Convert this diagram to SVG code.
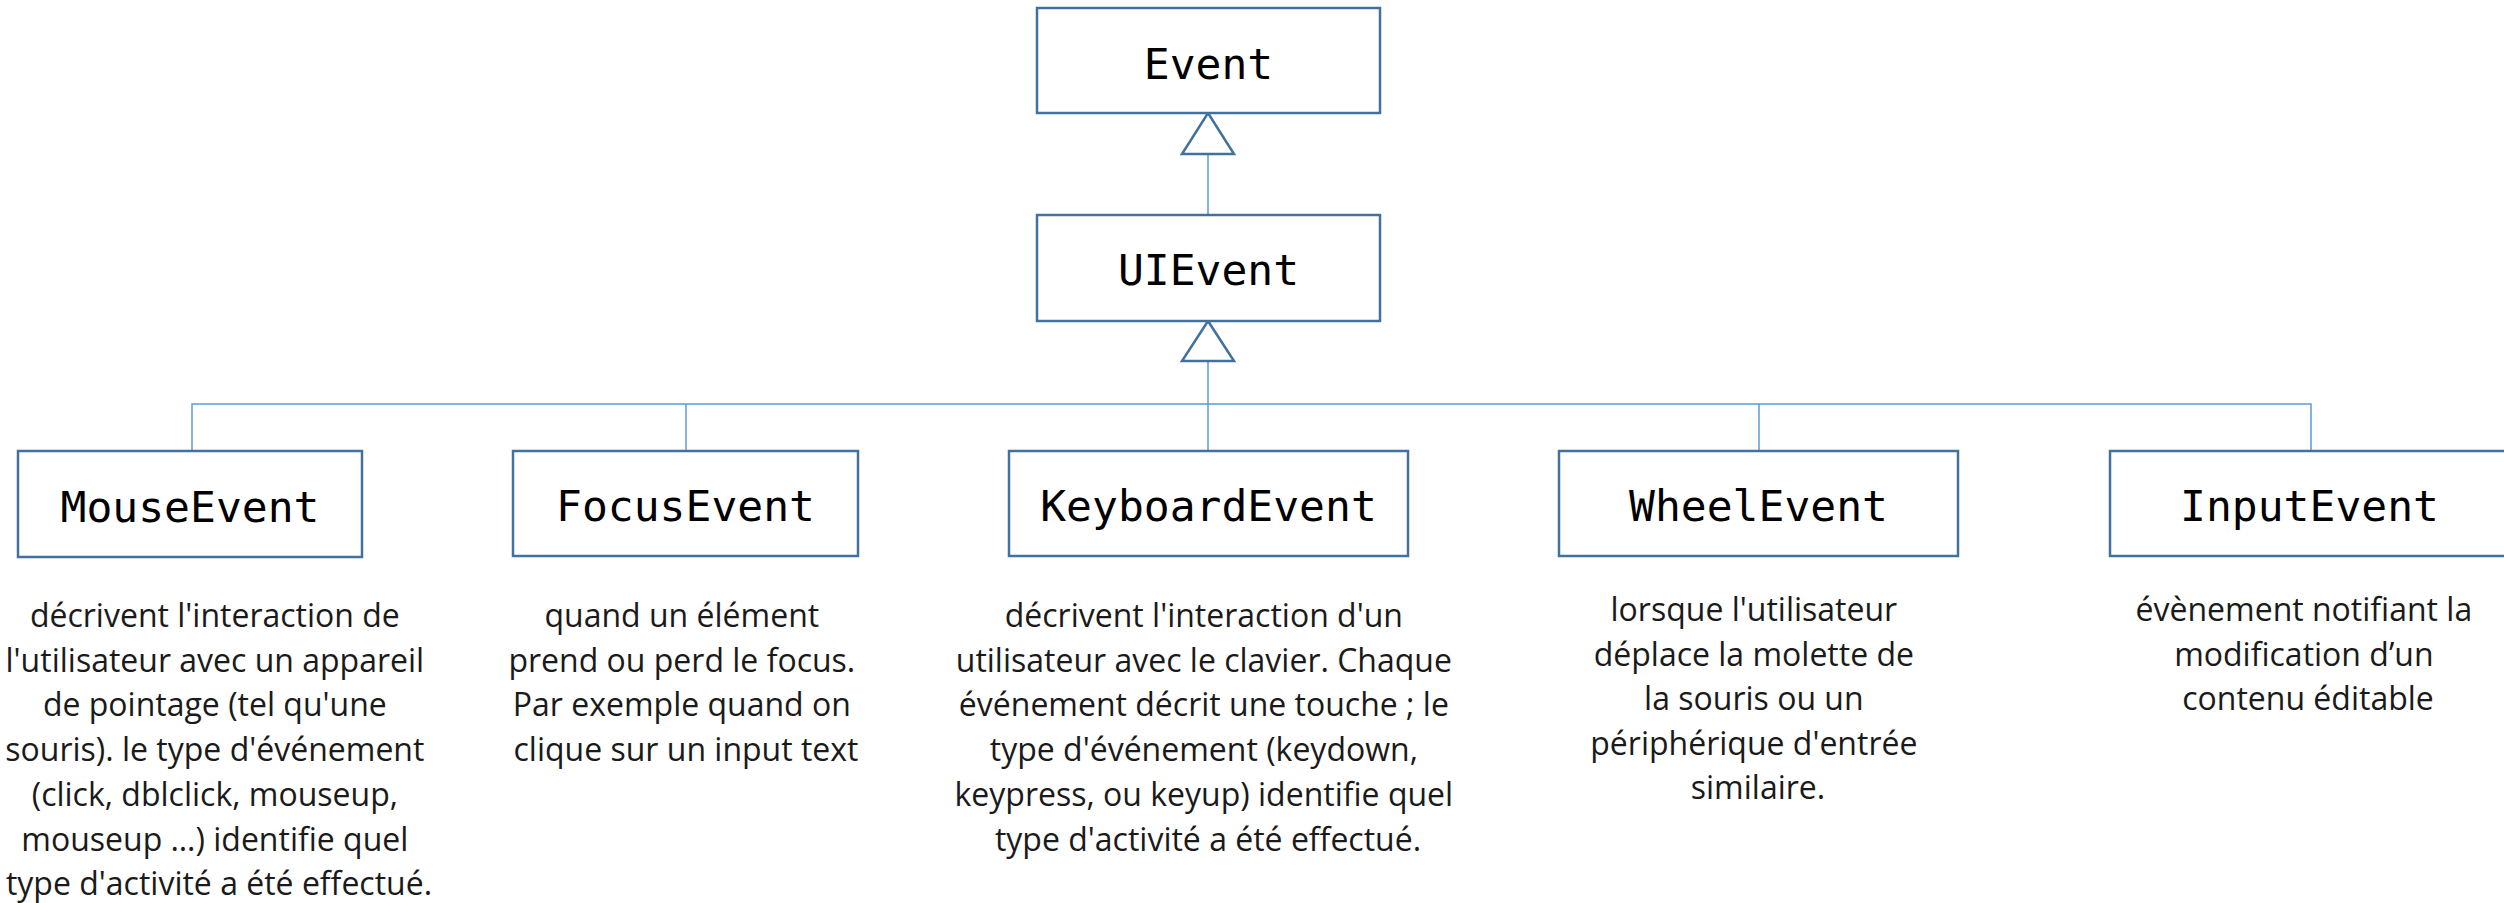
<svg xmlns="http://www.w3.org/2000/svg" width="2504" height="903" viewBox="0 0 2504 903">
  <style>
    .box { fill: #ffffff; stroke: #41719c; stroke-width: 2.5; }
    .label { font-family: "DejaVu Sans Mono", "Liberation Mono", monospace; font-size: 43px; fill: #000000; text-anchor: middle; }
    .desc { font-family: "Open Sans", "Noto Sans", "Liberation Sans", sans-serif; font-weight: 400; font-size: 32px; fill: #1a1a1a; text-anchor: middle; }
    .link { fill: none; stroke: #5b9bd5; stroke-width: 1.5; }
    .head { fill: #ffffff; stroke: #41719c; stroke-width: 2.5; stroke-linejoin: miter; }
  </style>
  <rect width="2504" height="903" fill="#ffffff"/>

  <!-- inheritance connectors -->
  <g id="connectors">
    <line class="link" x1="1208" y1="154" x2="1208" y2="215"/>
    <line class="link" x1="1208" y1="361" x2="1208" y2="451"/>
    <polyline class="link" points="192,451 192,404 2311,404 2311,451"/>
    <line class="link" x1="686" y1="404" x2="686" y2="451"/>
    <line class="link" x1="1759" y1="404" x2="1759" y2="451"/>
    <polygon class="head" points="1208,113 1234,154 1182,154"/>
    <polygon class="head" points="1208,321 1234,361 1182,361"/>
  </g>

  <g id="event">
    <rect class="box" x="1037" y="8" width="343" height="105"/>
    <text class="label" x="1208.5" y="79">Event</text>
  </g>

  <g id="uievent">
    <rect class="box" x="1037" y="215" width="343" height="106"/>
    <text class="label" x="1208.5" y="285">UIEvent</text>
  </g>

  <g id="mouseevent">
    <rect class="box" x="18" y="451" width="344" height="106"/>
    <text class="label" x="190" y="522">MouseEvent</text>
    <text class="desc" y="627">
      <tspan x="219">décrivent l'interaction de</tspan>
      <tspan x="219" dy="44.7">l'utilisateur avec un appareil</tspan>
      <tspan x="219" dy="44.7">de pointage (tel qu'une</tspan>
      <tspan x="219" dy="44.7">souris). le type d'événement</tspan>
      <tspan x="219" dy="44.7">(click, dblclick, mouseup,</tspan>
      <tspan x="219" dy="44.7">mouseup …) identifie quel</tspan>
      <tspan x="219" dy="44.7">type d'activité a été effectué.</tspan>
    </text>
  </g>

  <g id="focusevent">
    <rect class="box" x="513" y="451" width="345" height="105"/>
    <text class="label" x="685.5" y="521">FocusEvent</text>
    <text class="desc" y="627">
      <tspan x="686">quand un élément</tspan>
      <tspan x="686" dy="44.7">prend ou perd le focus.</tspan>
      <tspan x="686" dy="44.7">Par exemple quand on</tspan>
      <tspan x="686" dy="44.7">clique sur un input text</tspan>
    </text>
  </g>

  <g id="keyboardevent">
    <rect class="box" x="1009" y="451" width="399" height="105"/>
    <text class="label" x="1208.5" y="521">KeyboardEvent</text>
    <text class="desc" y="627">
      <tspan x="1208">décrivent l'interaction d'un</tspan>
      <tspan x="1208" dy="44.7">utilisateur avec le clavier. Chaque</tspan>
      <tspan x="1208" dy="44.7">événement décrit une touche ; le</tspan>
      <tspan x="1208" dy="44.7">type d'événement (keydown,</tspan>
      <tspan x="1208" dy="44.7">keypress, ou keyup) identifie quel</tspan>
      <tspan x="1208" dy="44.7">type d'activité a été effectué.</tspan>
    </text>
  </g>

  <g id="wheelevent">
    <rect class="box" x="1559" y="451" width="399" height="105"/>
    <text class="label" x="1758.5" y="521">WheelEvent</text>
    <text class="desc" y="621">
      <tspan x="1758">lorsque l'utilisateur</tspan>
      <tspan x="1758" dy="44.5">déplace la molette de</tspan>
      <tspan x="1758" dy="44.5">la souris ou un</tspan>
      <tspan x="1758" dy="44.5">périphérique d'entrée</tspan>
      <tspan x="1758" dy="44.5">similaire.</tspan>
    </text>
  </g>

  <g id="inputevent">
    <rect class="box" x="2110" y="451" width="399" height="105"/>
    <text class="label" x="2309.5" y="521">InputEvent</text>
    <text class="desc" y="621">
      <tspan x="2308">évènement notifiant la</tspan>
      <tspan x="2308" dy="44.5">modification d’un</tspan>
      <tspan x="2308" dy="44.5">contenu éditable</tspan>
    </text>
  </g>
</svg>
